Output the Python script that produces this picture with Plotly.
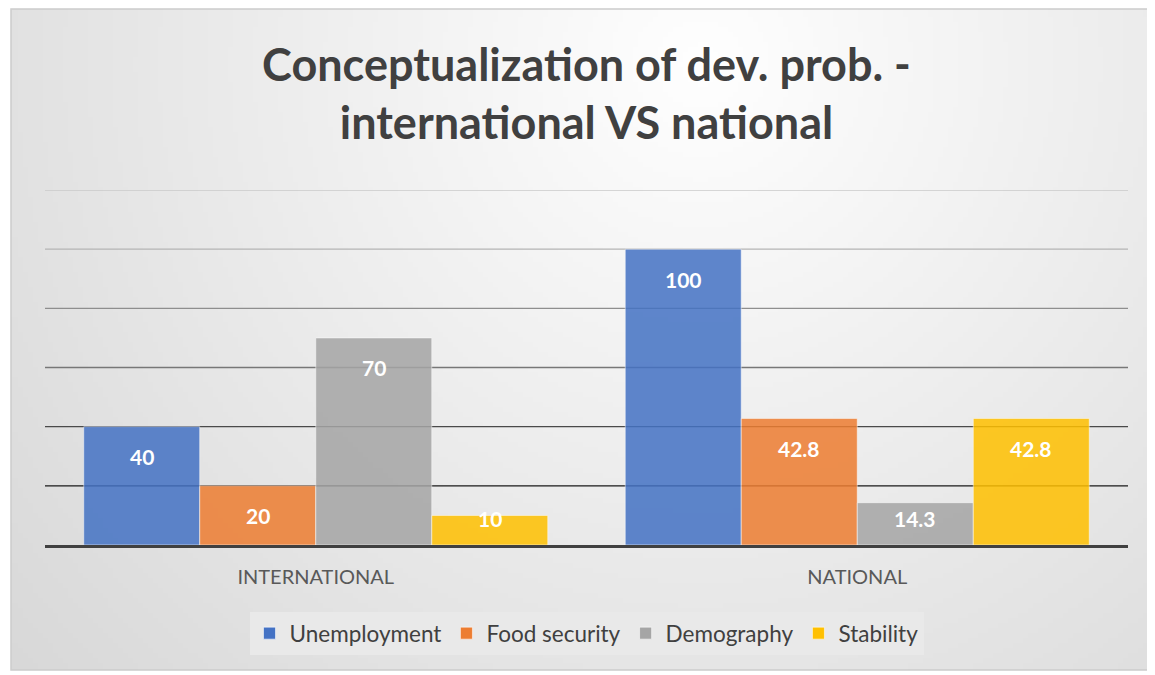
import zlib, struct, base64
import plotly.graph_objects as go

# ---- data ----
categories = ["INTERNATIONAL", "NATIONAL"]
series_names = ["Unemployment", "Food security", "Demography", "Stability"]
unemployment = [40, 100]
food_security = [20, 42.8]
demography = [70, 14.3]
stability = [10, 42.8]
series_values = [unemployment, food_security, demography, stability]
series_colors = ["#4472C4", "#ED7D31", "#A5A5A5", "#FFC000"]
y_max = 120
grid_vals = [20, 40, 60, 80, 100, 120]
grid_colors = ["#1a1a1a", "#4a4a4a", "#777777", "#8e8e8e", "#b4b4b4", "#cacaca"]

# ---- layout geometry (figure pixel coords) ----
W, H = 1155, 675
ML, MR, MT, MB = 37, 35, 182, 138
PW, PH = W - ML - MR, H - MT - MB
BOX = (3, 1, 1142, 662)  # outer chart frame in pixels
BARGAP = 0.143
FONT = "Lato"

# ---- gradient background png ----
def make_png(w, h, pix):
    raw = b"".join(b"\x00" + bytes(r) for r in pix)
    def chunk(t, d):
        c = struct.pack(">I", len(d)) + t + d
        return c + struct.pack(">I", zlib.crc32(t + d) & 0xffffffff)
    return (b"\x89PNG\r\n\x1a\n" + chunk(b"IHDR", struct.pack(">IIBBBBB", w, h, 8, 0, 0, 0, 0))
            + chunk(b"IDAT", zlib.compress(raw)) + chunk(b"IEND", b""))

bw, bh = BOX[2] - BOX[0], BOX[3] - BOX[1]
gw, gh = 228, 132
cx, cy = 690, 55
pix = []
for j in range(gh):
    row = []
    for i in range(gw):
        px = (i + 0.5) / gw * bw
        py = (j + 0.5) / gh * bh
        d = ((px - cx) ** 2 + (py - cy) ** 2) ** 0.5
        v = 255 - 29 * d / 686
        row.append(int(max(213, min(255, v))))
    pix.append(row)
bg_uri = "data:image/png;base64," + base64.b64encode(make_png(gw, gh, pix)).decode()

def px_to_paper_x(x):
    return (x - ML) / PW

def px_to_paper_y(y):
    return (H - MB - y) / PH

fig = go.Figure()
for name, vals, col in zip(series_names, series_values, series_colors):
    fig.add_trace(go.Bar(
        name=name, x=categories, y=vals,
        marker=dict(color=col, opacity=0.85, line=dict(color="rgba(255,255,255,0.55)", width=1)),
        hoverinfo="x+y+name",
    ))

# data labels
ppu = PH / y_max
n = len(series_names)
bar_w = (1 - BARGAP) / n
annotations = []
for j, vals in enumerate(series_values):
    off = (j - (n - 1) / 2) * bar_w
    for i, v in enumerate(vals):
        hpx = v * ppu
        shift = -min(30, hpx - 27)
        annotations.append(dict(
            x=i + off, y=v, xref="x", yref="y", text="<b>%s</b>" % (f"{v:g}"),
            showarrow=False, yshift=shift, yanchor="middle",
            font=dict(family=FONT, size=21, color="white"),
        ))

shapes = []
# frame border
shapes.append(dict(type="rect", xref="paper", yref="paper",
                   x0=px_to_paper_x(BOX[0]), x1=px_to_paper_x(BOX[2]),
                   y0=px_to_paper_y(BOX[3]), y1=px_to_paper_y(BOX[1]),
                   line=dict(color="#cccccc", width=1.5), fillcolor="rgba(0,0,0,0)", layer="above"))
for gv, gc in zip(grid_vals, grid_colors):
    shapes.append(dict(type="line", xref="paper", yref="y", x0=0, x1=1, y0=gv, y1=gv,
                       line=dict(color=gc, width=1.3), layer="below"))

fig.update_layout(
    width=W, height=H,
    margin=dict(l=ML, r=MR, t=MT, b=MB, pad=0),
    paper_bgcolor="white",
    plot_bgcolor="rgba(0,0,0,0)",
    barmode="group", bargap=BARGAP, bargroupgap=0,
    title=dict(text="<b>Conceptualization of dev. prob. -<br>international VS national</b>",
               x=0.5, xref="paper", xanchor="center", y=0.892, yref="container", yanchor="middle",
               font=dict(family=FONT, size=45, color="#404040")),
    xaxis=dict(showline=True, linecolor="#404040", linewidth=3, ticks="outside", ticklen=12,
               tickcolor="rgba(0,0,0,0)", tickfont=dict(family=FONT, size=20, color="#595959"),
               showgrid=False, zeroline=False),
    yaxis=dict(range=[0, y_max], showticklabels=False, showgrid=False, zeroline=False, ticks=""),
    legend=dict(orientation="h", x=0.5, xanchor="center", y=px_to_paper_y(604), yanchor="top",
                bgcolor="#e9e9e9", font=dict(family=FONT, size=22.5, color="#404040"),
                itemwidth=30, traceorder="normal"),
    annotations=annotations,
    shapes=shapes,
    images=[dict(source=bg_uri, xref="paper", yref="paper",
                 x=px_to_paper_x(BOX[0]), y=px_to_paper_y(BOX[1]),
                 sizex=bw / PW, sizey=bh / PH, sizing="stretch",
                 xanchor="left", yanchor="top", layer="below")],
    showlegend=True,
)

fig.write_html("out.html")
